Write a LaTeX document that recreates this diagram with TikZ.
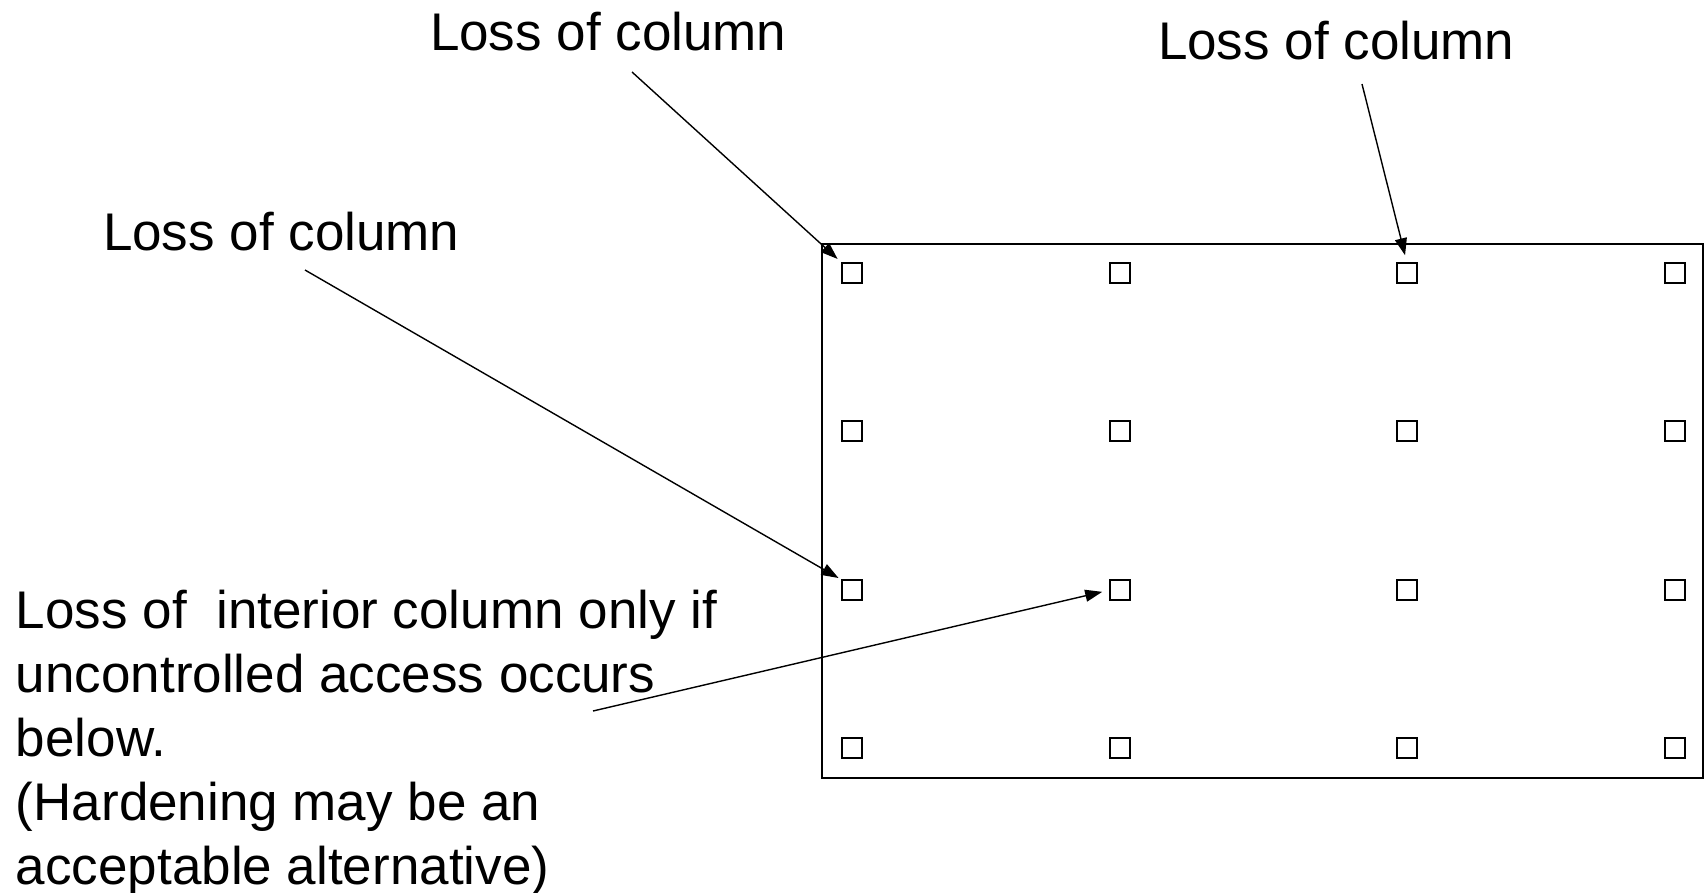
\documentclass[tikz,border=0pt]{standalone}
\usepackage{fontspec}
\setmainfont{Liberation Sans}
\usetikzlibrary{arrows.meta}
\begin{document}
\begin{tikzpicture}[x=1pt,y=-1pt,
  lbl/.style={inner sep=0pt,outer sep=0pt,anchor=base west,font=\fontsize{53}{64}\selectfont},
  col/.style={draw,line width=1.9pt,minimum size=20pt,inner sep=0pt,outer sep=0pt},
  conn/.style={line width=1.4pt,-{Triangle[length=17pt,width=12pt]}}]
\useasboundingbox (0,0) rectangle (1707,892);
% frame
\draw[line width=2pt] (822,244) rectangle (1703,778);
% columns
\foreach \c/\x in {1/852,2/1120,3/1407,4/1675}{
  \foreach \r/\y in {1/273,2/431,3/590,4/748}{
    \node[col] (s\r\c) at (\x,\y) {};
  }
}
% labels
\node[lbl] (t1) at (430,50) {Loss of column};
\node[lbl] (t2) at (1158,59) {Loss of column};
\node[lbl] (t3) at (103,250) {Loss of column};
\node[lbl,align=left] (t4) at (16,884) {Loss of\ \ interior column only if\\uncontrolled access occurs\\below.\\(Hardening may be an\\acceptable alternative)};
% connector starts
\coordinate (a1) at (632,72);
\coordinate (a2) at (1362,84);
\coordinate (a3) at (305,270);
\coordinate (a4) at (593,711);
\draw[conn,shorten >=6pt] (a1) -- (s11.north west);
\draw[conn,shorten >=8pt] (a2) -- (s13.north);
\draw[conn,shorten >=4pt] (a3) -- (s31.north west);
\draw[conn,shorten >=8pt] (a4) -- (s32.west);
\end{tikzpicture}
\end{document}
